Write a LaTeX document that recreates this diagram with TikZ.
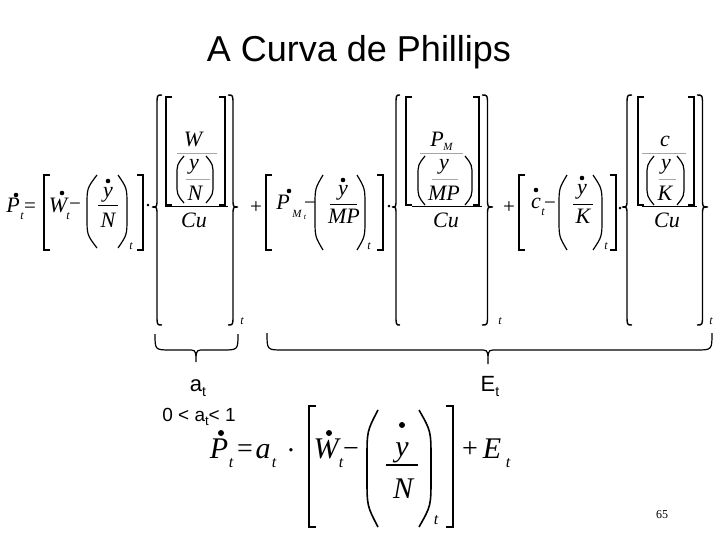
\documentclass[tikz,border=0pt]{standalone}
\usepackage{fontspec}
\setmainfont{Liberation Serif}
\newfontfamily\arialf{Liberation Sans}
\tikzset{
 mt/.style={inner sep=0pt, anchor=base, font=\fontsize{22}{22}\selectfont\itshape},
 mts/.style={inner sep=0pt, anchor=base, font=\fontsize{12}{12}\selectfont\itshape},
 mtm/.style={inner sep=0pt, anchor=base, font=\fontsize{11}{11}\selectfont\itshape},
 mss/.style={inner sep=0pt, anchor=base, font=\fontsize{8}{8}\selectfont\itshape},
 mop/.style={inner sep=0pt, anchor=base, font=\fontsize{21}{21}\selectfont},
 mb/.style={inner sep=0pt, anchor=base, font=\fontsize{30}{30}\selectfont\itshape},
 mbs/.style={inner sep=0pt, anchor=base, font=\fontsize{16}{16}\selectfont\itshape},
 mopb/.style={inner sep=0pt, anchor=base, font=\fontsize{28}{28}\selectfont},
 delim/.style={line width=1.4pt, line join=miter},
 delimb/.style={line width=2pt, line join=miter},
 paren/.style={line width=1.2pt},
 thinbar/.style={line width=0.6pt, black!35},
 fbar/.style={line width=1pt},
 lab/.style={inner sep=0pt, anchor=base, font=\fontsize{22}{22}\selectfont\arialf},
}
% left bracket: x, top, bottom, serif
\newcommand\dLB[4]{\draw[delim] ({#1+#4},#2) -- (#1,#2) -- (#1,#3) -- ({#1+#4},#3);}
\newcommand\dRB[4]{\draw[delim] ({#1-#4},#2) -- (#1,#2) -- (#1,#3) -- ({#1-#4},#3);}
% parenthesis: ends x, middle x, top, bottom
\newcommand\dPar[4]{\draw[paren] (#1,#3) .. controls (#2,{#3+0.18*(#4-#3)}) .. (#2,{#3+0.42*(#4-#3)}) -- (#2,{#4-0.42*(#4-#3)}) .. controls (#2,{#4-0.18*(#4-#3)}) .. (#1,#4);}
% vertical brace: ends x, cusp x, top, mid, bottom
\newcommand\dBrace[5]{\draw[delim] (#1,#3) .. controls ({(#1+#2)/2},#3) .. ({(#1+#2)/2},{#3+10}) -- ({(#1+#2)/2},{#4-8}) .. controls ({(#1+#2)/2},#4) .. (#2,#4) .. controls ({(#1+#2)/2},#4) .. ({(#1+#2)/2},{#4+8}) -- ({(#1+#2)/2},{#5-10}) .. controls ({(#1+#2)/2},#5) .. (#1,#5);}
% under brace: left x, right x, cusp x, ends y, line y, cusp y
\newcommand\dUBrace[6]{%
 \draw[line width=1.2pt] (#1,#4) .. controls (#1,#5) .. ({#1+16},#5) -- ({#3-9},#5) .. controls ({#3-1},#5) .. (#3,{#5+6}) -- (#3,#6);
 \draw[line width=1.2pt] (#2,#4) .. controls (#2,#5) .. ({#2-16},#5) -- ({#3+9},#5) .. controls ({#3+1},#5) .. (#3,{#5+6});}
\begin{document}
\begin{tikzpicture}[x=1pt,y=-1pt]
\useasboundingbox (0,0) rectangle (720,540);
\node[font=\fontsize{36}{36}\selectfont\arialf, anchor=base, inner sep=0pt] (title) at (359,62) {A Curva de Phillips};

% ---------- group 1 ----------
\node[mt] (p1) at (13,212) {P}; \fill (16,195) circle (2.3pt); \node[mts] (p1t) at (22,220) {t};
\node[mop] (eq1) at (30,212) {=};
\dLB{44}{175}{250}{6}
\node[mt] (w1) at (58,212) {W}; \fill (62,193) circle (2.3pt); \node[mts] (w1t) at (68,220) {t};
\node[mop] (mi1) at (75,211) {−};
\dPar{97}{87}{175}{248}
\fill (108,181) circle (2.3pt); \node[mt] (y1) at (108,197) {y};
\draw[fbar] (98,206) -- (118,206);
\node[mt] (n1) at (108,227) {N};
\dPar{118}{127}{175}{248}
\node[mts] (t1a) at (131,249) {t};
\dRB{143}{175}{250}{6}
\node[mop] (cd1) at (148,213) {·};
\dBrace{162}{152}{95}{207}{325}
\dLB{166}{97}{205}{6}
\node[mt] (w1n) at (193,147) {W};
\draw[thinbar] (177,153) -- (217,153);
\dPar{184}{177}{156}{203}
\node[mt] (y1n) at (194,170) {y};
\draw[thinbar] (186,179) -- (210,179);
\node[mt] (n1n) at (195,201) {N};
\dPar{206}{213}{156}{203}
\dRB{225}{97}{205}{6}
\draw[fbar] (165,207) -- (228,207);
\node[mt] (cu1) at (194,228) {Cu};
\dBrace{228}{238}{95}{207}{325}
\node[mts] (t1b) at (242,324) {t};

% ---------- group 2 ----------
\node[mop] (pl2) at (256,214) {+};
\dLB{266}{175}{250}{6}
\node[mt] (p2) at (283,210) {P}; \fill (289,191) circle (2.3pt);
\node[mtm] (p2m) at (297,218) {M}; \node[mss] (p2t) at (305,220) {t};
\node[mop] (mi2) at (310,210) {−};
\dPar{323}{315}{175}{250}
\fill (343,180) circle (2.3pt); \node[mt] (y2) at (343,196) {y};
\draw[fbar] (330,205) -- (357,205);
\node[mt] (mp2) at (344,223) {MP};
\dPar{357}{365}{175}{250}
\node[mts] (t2a) at (369,249) {t};
\dRB{383}{175}{250}{6}
\node[mop] (cd2) at (389,214) {·};
\dBrace{400}{392}{95}{207}{325}
\dLB{406}{97}{205}{6}
\node[mt] (p2n) at (437,147) {P}; \node[mtm] (p2nm) at (448,151) {M};
\draw[thinbar] (420,153) -- (463,153);
\dPar{425}{418}{156}{205}
\node[mt] (y2n) at (444,170) {y};
\draw[thinbar] (432,179) -- (458,179);
\node[mt] (mp2n) at (444,201) {MP};
\dPar{465}{472}{156}{205}
\dRB{479}{97}{205}{6}
\draw[fbar] (412,207) -- (482,207);
\node[mt] (cu2) at (446,228) {Cu};
\dBrace{482}{493}{95}{207}{325}
\node[mts] (t2b) at (500,324) {t};

% ---------- group 3 ----------
\node[mop] (pl3) at (509,214) {+};
\dLB{519}{175}{250}{6}
\node[mt] (c3) at (536,208) {c}; \fill (536,190) circle (2.3pt); \node[mts] (c3t) at (543,215) {t};
\node[mop] (mi3) at (550,210) {−};
\dPar{567}{559}{175}{250}
\fill (582,178) circle (2.3pt); \node[mt] (y3) at (582,195) {y};
\draw[fbar] (573,205) -- (593,205);
\node[mt] (k3) at (583,224) {K};
\dPar{593}{602}{175}{250}
\node[mts] (t3a) at (606,249) {t};
\dRB{616}{175}{250}{6}
\node[mop] (cd3) at (620,215) {·};
\dBrace{632}{622}{95}{207}{325}
\dLB{638}{97}{205}{6}
\node[mt] (c3n) at (665,147) {c};
\draw[thinbar] (642,153) -- (686,153);
\dPar{654}{647}{156}{205}
\node[mt] (y3n) at (666,170) {y};
\draw[thinbar] (659,179) -- (676,179);
\node[mt] (k3n) at (665,201) {K};
\dPar{677}{684}{156}{205}
\dRB{694}{97}{205}{6}
\draw[fbar] (642,207) -- (697,207);
\node[mt] (cu3) at (667,228) {Cu};
\dBrace{697}{708}{95}{207}{325}
\node[mts] (t3b) at (711,324) {t};

% ---------- under braces and labels ----------
\dUBrace{155}{238}{196}{334}{350}{362}
\dUBrace{267}{712}{488}{333}{350}{364}
\node[lab] (at) at (198,391) {a\raisebox{-5pt}{\fontsize{14}{14}\selectfont t}};
\node[lab] (et) at (490,391) {E\raisebox{-5pt}{\fontsize{14}{14}\selectfont t}};
\node[inner sep=0pt, anchor=base, font=\fontsize{19}{19}\selectfont\arialf] (ineq) at (199,421) {0 < a\raisebox{-4pt}{\fontsize{13}{13}\selectfont t}< 1};

% ---------- bottom equation ----------
\node[mb] (pb) at (219,458) {P}; \fill (221,433) circle (3pt); \node[mbs] (pbt) at (231,467) {t};
\node[mopb] (eqb) at (245,457) {=};
\node[mb] (ab) at (263,458) {a}; \node[mbs] (abt) at (274,467) {t};
\node[mopb] (cdb) at (291,459) {·};
\draw[delimb] (316,406) -- (309,406) -- (309,527) -- (316,527);
\node[mb] (wb) at (326,458) {W}; \fill (329,433) circle (3pt); \node[mbs] (wbt) at (341,467) {t};
\node[mopb] (mib) at (351,457) {−};
\begin{scope}[paren/.style={line width=1.6pt}]
\dPar{378}{367}{410}{527}
\dPar{419}{431}{410}{527}
\end{scope}
\fill (402,425) circle (3pt); \node[mb] (yb) at (402,456) {y};
\draw[line width=1.3pt] (386,465) -- (418,465);
\node[mb] (nb) at (403,498) {N};
\node[mbs] (tb) at (436,524) {t};
\draw[delimb] (446,406) -- (453,406) -- (453,527) -- (446,527);
\node[mopb] (plb) at (470,457) {+};
\node[mb] (eb) at (492,458) {E}; \node[mbs] (ebt) at (508,467) {t};

\node[inner sep=0pt, anchor=base, font=\fontsize{12}{12}\selectfont] (pg) at (662,518) {65};
\end{tikzpicture}
\end{document}
